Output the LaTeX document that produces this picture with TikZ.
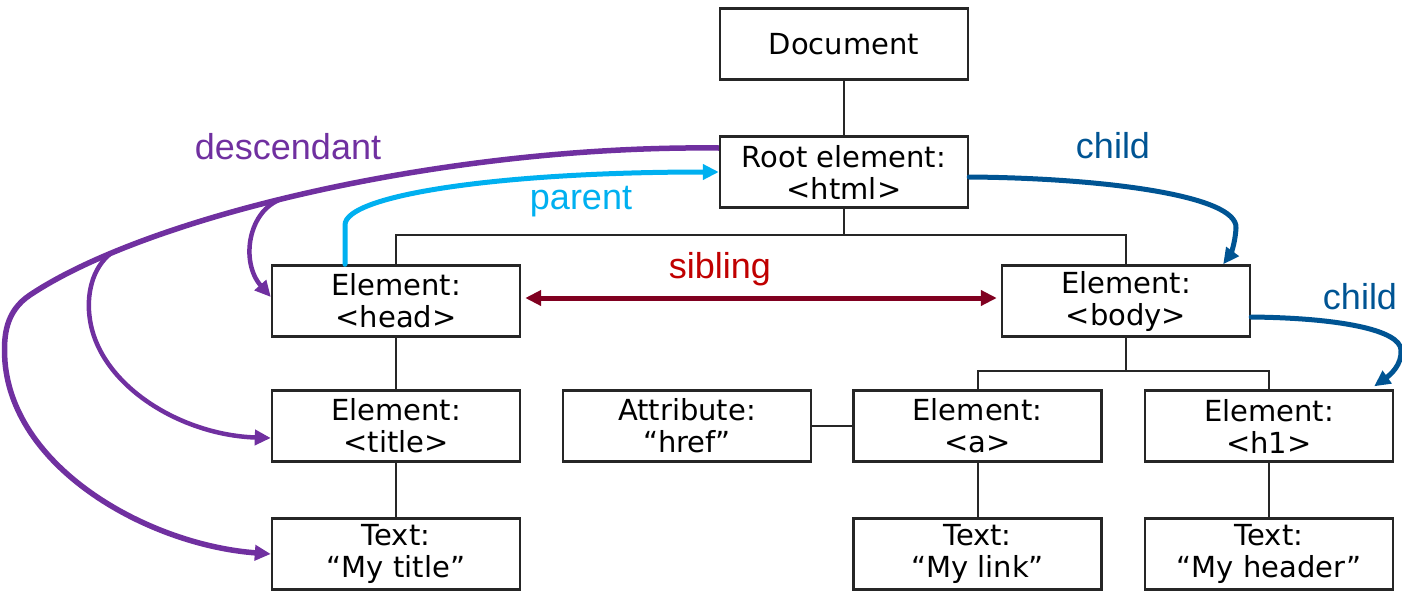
\documentclass[tikz,border=0pt]{standalone}
\usepackage{fontspec}
\newfontfamily\boxfont{DejaVu Sans}
\newfontfamily\labelfont{Liberation Sans}
\usetikzlibrary{arrows.meta,calc}

\definecolor{descpurple}{RGB}{112,48,160}
\definecolor{parentblue}{RGB}{0,176,240}
\definecolor{childblue}{RGB}{0,84,147}
\definecolor{sibarrow}{RGB}{128,0,32}
\definecolor{sibtext}{RGB}{192,0,0}

\tikzset{
  domnode/.style={draw=black!85, line width=2.4pt, fill=white,
    minimum width=248pt, minimum height=71pt, inner sep=0pt,
    align=center, font=\boxfont\fontsize{29}{32}\selectfont},
  treeline/.style={draw=black!85, line width=2pt},
  rel/.style={line width=5pt, line cap=round},
  reltip/.style={-{Triangle[length=16pt,width=15pt]}},
  rellabel/.style={anchor=base, font=\labelfont\fontsize{36}{40}\selectfont}
}

\begin{document}
\begin{tikzpicture}[x=1pt, y=-1pt]
\useasboundingbox (0,0) rectangle (1402,592);

% DOM tree boxes
\node[domnode] (doc)    at (844,44)   {Document};
\node[domnode] (root)   at (844,172)  {Root element:\\<html>};
\node[domnode] (head)   at (396,301)  {Element:\\<head>};
\node[domnode] (body)   at (1126,301) {Element:\\<body>};
\node[domnode] (title)  at (396,426)  {Element:\\<title>};
\node[domnode] (attr)   at (687,426)  {Attribute:\\“href”};
\node[domnode] (anchor) at (977.5,426){Element:\\<a>};
\node[domnode] (hone)   at (1269,426) {Element:\\<h1>};
\node[domnode] (ttitle) at (396,554)  {Text:\\“My title”};
\node[domnode] (tlink)  at (977.5,554){Text:\\“My link”};
\node[domnode] (theader)at (1269,554) {Text:\\“My header”};

% tree connectors
\draw[treeline] (doc.south) -- (root.north);
\draw[treeline] (root.south) -- ++(0,26) -| (head.north);
\draw[treeline] (root.south) -- ++(0,26) -| (body.north);
\draw[treeline] (head.south) -- (title.north);
\draw[treeline] (title.south) -- (ttitle.north);
\draw[treeline] (body.south) -- ++(0,33) -| (anchor.north);
\draw[treeline] (body.south) -- ++(0,33) -| (hone.north);
\draw[treeline] (attr.east) -- (anchor.west);
\draw[treeline] (anchor.south) -- (tlink.north);
\draw[treeline] (hone.south) -- (theader.north);

% descendant arrows: one trunk with two branches
\draw[rel, line width=5.5pt, line cap=butt, descpurple, reltip]
  ($(root.west)+(0,-24)$) .. controls (450,145) and (150,215) ..
    coordinate[pos=0.55] (dA) coordinate[pos=0.82] (dB) (30,295)
  .. controls (6,311) and (3,335) .. (5,362)
  .. controls (14,470) and (150,545) .. (ttitle.west);
\draw[rel, line width=4.5pt, descpurple, reltip]
  (dA) .. controls (248,210) and (240,262) .. ($(head.west)+(0,-4)$);
\draw[rel, line width=4.5pt, descpurple, reltip]
  (dB) .. controls (92,268) and (86,295) .. (90,320)
  .. controls (100,385) and (180,435) .. ($(title.west)+(0,12)$);
\node[rellabel, descpurple] (ldesc) at (288,159) {descendant};

% parent arrow
\draw[rel, parentblue, reltip]
  ($(head.north)+(-51,0)$) -- (345,225) .. controls (345,195) and (500,172) .. (root.west);
\node[rellabel, parentblue] (lparent) at (581,209) {parent};

% child arrows
\draw[rel, childblue, reltip]
  ($(root.east)+(0,5)$) .. controls (1100,178) and (1238,195) .. (1236,228)
  .. controls (1235,245) and (1230,255) .. ($(body.north east)+(-28,0)$);
\node[rellabel, childblue] (lchild) at (1113,158) {child};
\draw[rel, childblue, reltip]
  ($(body.east)+(0,16)$) .. controls (1340,318) and (1400,330) .. (1401,350)
  .. controls (1402,365) and (1390,375) .. ($(hone.north east)+(-20,-3)$);
\node[rellabel, childblue] (lchild2) at (1360,309) {child};

% sibling arrow
\draw[rel, sibarrow, {Triangle[length=16pt,width=15pt]}-{Triangle[length=16pt,width=15pt]},
  shorten <=4pt, shorten >=4pt]
  ($(head.east)+(0,-3)$) -- ($(body.west)+(0,-3)$);
\node[rellabel, sibtext] (lsib) at (720,278) {sibling};
\end{tikzpicture}
\end{document}
